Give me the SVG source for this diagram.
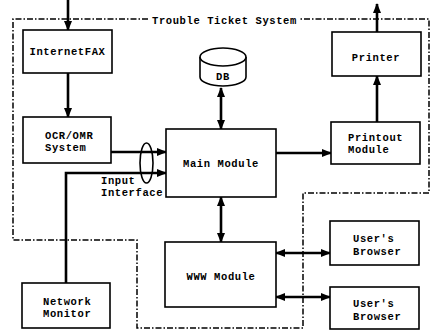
<svg xmlns="http://www.w3.org/2000/svg" width="432" height="332" viewBox="0 0 432 332">
<defs>
<marker id="ah" markerUnits="userSpaceOnUse" markerWidth="10" markerHeight="8" refX="9" refY="4" orient="auto-start-reverse">
<path d="M0,0 L10,4 L0,8 z" fill="#000"/>
</marker>
<style>
.box{fill:#fff;stroke:#000;stroke-width:1.6}
.t{font-family:"Liberation Mono","Courier New",monospace;font-size:10.5px;letter-spacing:0.6px;font-weight:bold;fill:#000}
.m{text-anchor:middle}
.c{stroke:#000;stroke-width:2.6;fill:none}
.a{marker-end:url(#ah)}
.d{marker-start:url(#ah);marker-end:url(#ah)}
.bd{stroke:#000;stroke-width:1.5;fill:none;stroke-dasharray:6 2 1.5 2}
</style>
</defs>
<rect width="432" height="332" fill="#fff"/>
<g id="boundary">
<path class="bd" d="M148 19 H13 V240 H137 V328 H303 V193 H429 V19 H300"/>
<text class="t" x="152" y="24">Trouble Ticket System</text>
</g>
<g id="connectors">
<line class="c a" x1="68" y1="0" x2="68" y2="30"/>
<line class="c a" x1="68" y1="73" x2="68" y2="117"/>
<line class="c a" x1="111" y1="152" x2="166" y2="152"/>
<polyline class="c a" points="66,283 66,173 166,173"/>
<line class="c d" x1="221" y1="88" x2="221" y2="129"/>
<line class="c a" x1="276" y1="153" x2="331" y2="153"/>
<line class="c a" x1="377" y1="122" x2="377" y2="76"/>
<line class="c a" x1="377" y1="32" x2="377" y2="4"/>
<line class="c d" x1="221" y1="197" x2="221" y2="242"/>
<line class="c d" x1="276" y1="253" x2="330" y2="253"/>
<line class="c d" x1="276" y1="297" x2="330" y2="297"/>
<ellipse cx="146.5" cy="163" rx="6.5" ry="20" fill="none" stroke="#000" stroke-width="1.6"/>
<text class="t" x="101" y="184">Input</text>
<text class="t" x="101" y="196">Interface</text>
</g>
<g id="internetfax">
<rect class="box" x="23" y="30" width="89" height="43"/>
<text class="t m" x="67.5" y="55">InternetFAX</text>
</g>
<g id="ocr">
<rect class="box" x="23" y="117" width="88" height="46"/>
<text class="t" x="45" y="139">OCR/OMR</text>
<text class="t" x="45" y="151">System</text>
</g>
<g id="db">
<path d="M200 57 V77 A23 9 0 0 0 246 77 V57" fill="#fff" stroke="#000" stroke-width="1.6"/>
<ellipse cx="223" cy="57" rx="23" ry="9" fill="#fff" stroke="#000" stroke-width="1.6"/>
<text class="t m" x="223" y="80">DB</text>
</g>
<g id="main">
<rect class="box" x="166" y="129" width="110" height="68"/>
<text class="t m" x="221" y="167">Main Module</text>
</g>
<g id="printer">
<rect class="box" x="332" y="32" width="89" height="44"/>
<text class="t m" x="376" y="61">Printer</text>
</g>
<g id="printout">
<rect class="box" x="331" y="122" width="89" height="42"/>
<text class="t" x="348" y="141">Printout</text>
<text class="t" x="348" y="153">Module</text>
</g>
<g id="www">
<rect class="box" x="165" y="242" width="111" height="65"/>
<text class="t m" x="221" y="280">WWW Module</text>
</g>
<g id="browser1">
<rect class="box" x="330" y="221" width="89" height="44"/>
<text class="t" x="353" y="242">User's</text>
<text class="t" x="353" y="255">Browser</text>
</g>
<g id="browser2">
<rect class="box" x="330" y="287" width="89" height="42"/>
<text class="t" x="353" y="307">User's</text>
<text class="t" x="353" y="320">Browser</text>
</g>
<g id="netmon">
<rect class="box" x="22" y="283" width="88" height="45"/>
<text class="t" x="43" y="305">Network</text>
<text class="t" x="43" y="317">Monitor</text>
</g>
</svg>
